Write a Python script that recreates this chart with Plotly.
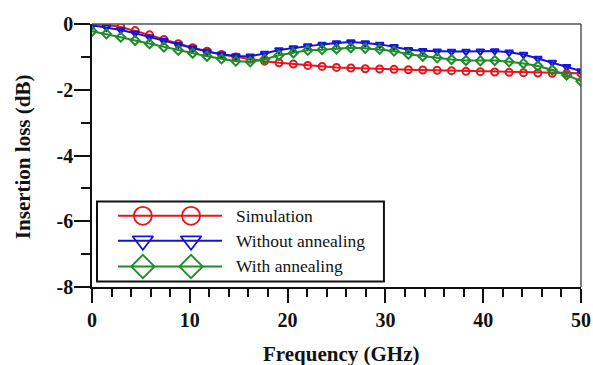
import plotly.graph_objects as go

freq = [0, 1.47, 2.94, 4.41, 5.88, 7.35, 8.82, 10.29, 11.76, 13.24, 14.71, 16.18,
        17.65, 19.12, 20.59, 22.06, 23.53, 25.0, 26.47, 27.94, 29.41, 30.88, 32.35,
        33.82, 35.29, 36.76, 38.24, 39.71, 41.18, 42.65, 44.12, 45.59, 47.06, 48.53, 50]

simulation = [0, -0.02, -0.09, -0.2, -0.33, -0.47, -0.6, -0.72, -0.83, -0.93, -1.0, -1.07,
              -1.13, -1.18, -1.22, -1.26, -1.29, -1.32, -1.34, -1.36, -1.37, -1.38, -1.39,
              -1.4, -1.41, -1.42, -1.44, -1.45, -1.46, -1.47, -1.48, -1.49, -1.5, -1.5, -1.5]

without_annealing = [-0.04, -0.1, -0.18, -0.28, -0.4, -0.5, -0.62, -0.73, -0.84, -0.92, -0.97, -0.98,
                     -0.9, -0.79, -0.73, -0.67, -0.62, -0.58, -0.55, -0.58, -0.62, -0.69, -0.78,
                     -0.81, -0.83, -0.84, -0.84, -0.83, -0.82, -0.86, -0.93, -1.05, -1.17, -1.3, -1.43]

with_annealing = [-0.22, -0.3, -0.4, -0.5, -0.6, -0.7, -0.8, -0.89, -0.98, -1.06, -1.13, -1.15,
                  -1.07, -0.95, -0.88, -0.8, -0.78, -0.76, -0.72, -0.74, -0.77, -0.82, -0.92,
                  -0.98, -1.03, -1.08, -1.11, -1.12, -1.11, -1.15, -1.2, -1.28, -1.4, -1.55, -1.74]

series_names = ["Simulation", "Without annealing", "With annealing"]
series_values = [simulation, without_annealing, with_annealing]
colors = ["#e8141c", "#1414dc", "#1e8c28"]
symbols = ["circle-open", "triangle-down-open", "diamond-open"]

x_ticks = [0, 10, 20, 30, 40, 50]
y_ticks = [0, -2, -4, -6, -8]

x_title = "Frequency (GHz)"
y_title = "Insertion loss (dB)"

FONT = "Liberation Serif"

fig = go.Figure()

for name, vals, col, sym in zip(series_names, series_values, colors, symbols):
    fig.add_trace(go.Scatter(
        x=freq, y=vals, mode="lines+markers", name=name, showlegend=False,
        line=dict(color=col, width=2),
        marker=dict(symbol=sym, size=7, color=col, line=dict(color=col, width=2)),
    ))

# custom legend (overlay axes in 0..1 units)
row_y = [0.2705, 0.1757, 0.078]
line_x = [0.0532, 0.266]
mark_x = [0.104, 0.2025]
shapes = []
annotations = []
for name, col, sym, ry in zip(series_names, colors, symbols, row_y):
    shapes.append(dict(type="line", xref="x2", yref="y2", x0=line_x[0], x1=line_x[1],
                       y0=ry, y1=ry, line=dict(color=col, width=2)))
    fig.add_trace(go.Scatter(
        x=mark_x, y=[ry, ry], xaxis="x2", yaxis="y2", mode="markers", showlegend=False,
        hoverinfo="skip",
        marker=dict(symbol=sym, size=18, color=col, line=dict(color=col, width=1.8)),
    ))
    annotations.append(dict(x=0.29, y=ry, xref="x2", yref="y2", text=name, showarrow=False,
                            xanchor="left", yanchor="middle",
                            font=dict(family=FONT, size=17.5, color="#111")))

shapes.append(dict(type="rect", xref="x2", yref="y2", x0=0.0102, x1=0.597, y0=0.021, y1=0.325,
                   line=dict(color="#111", width=2), fillcolor="rgba(0,0,0,0)"))
# gray top and right frame
shapes.append(dict(type="line", xref="paper", yref="paper", x0=0, x1=1, y0=1, y1=1,
                   line=dict(color="#555", width=1.5)))
shapes.append(dict(type="line", xref="paper", yref="paper", x0=1, x1=1, y0=0, y1=1,
                   line=dict(color="#555", width=1.5)))

# axis titles as annotations
annotations.append(dict(x=0.511, y=-0.255, xref="paper", yref="paper", text="<b>" + x_title + "</b>",
                        showarrow=False, xanchor="center", yanchor="middle",
                        font=dict(family=FONT, size=21, color="#111")))
annotations.append(dict(x=-0.141, y=0.494, xref="paper", yref="paper", text="<b>" + y_title + "</b>",
                        showarrow=False, xanchor="center", yanchor="middle", textangle=-90,
                        font=dict(family=FONT, size=21, color="#111")))

fig.update_layout(
    width=593, height=365,
    margin=dict(l=92, r=12, t=24, b=78, autoexpand=False),
    paper_bgcolor="white", plot_bgcolor="white",
    font=dict(family=FONT, color="#111"),
    shapes=shapes, annotations=annotations,
    xaxis=dict(range=[0, 50], tickvals=x_ticks, ticks="outside", ticklen=14, tickwidth=1.5,
               tickcolor="#111", showline=True, linecolor="#111", linewidth=1.5,
               showgrid=False, zeroline=False, automargin=False,
               tickfont=dict(family=FONT, size=20, color="#111", weight="bold"),
               minor=dict(dtick=2, ticks="outside", ticklen=8, tickwidth=1.5, tickcolor="#111")),
    yaxis=dict(range=[-8, 0], tickvals=y_ticks, ticktext=[str(v) for v in y_ticks],
               ticks="outside", ticklen=16, tickwidth=1.5,
               tickcolor="#111", showline=True, linecolor="#111", linewidth=1.5,
               showgrid=False, zeroline=False, automargin=False, ticklabelstandoff=-3,
               tickfont=dict(family=FONT, size=20, color="#111", weight="bold"),
               minor=dict(dtick=1, ticks="outside", ticklen=9, tickwidth=1.5, tickcolor="#111")),
    xaxis2=dict(overlaying="x", range=[0, 1], visible=False, fixedrange=True),
    yaxis2=dict(overlaying="y", range=[0, 1], visible=False, fixedrange=True),
)

# remove the default page margin so the figure fills the 593x365 window exactly
fig.write_html("out.html", config={"displayModeBar": False},
               post_script="document.body.style.margin='0';document.body.style.overflow='hidden';")
